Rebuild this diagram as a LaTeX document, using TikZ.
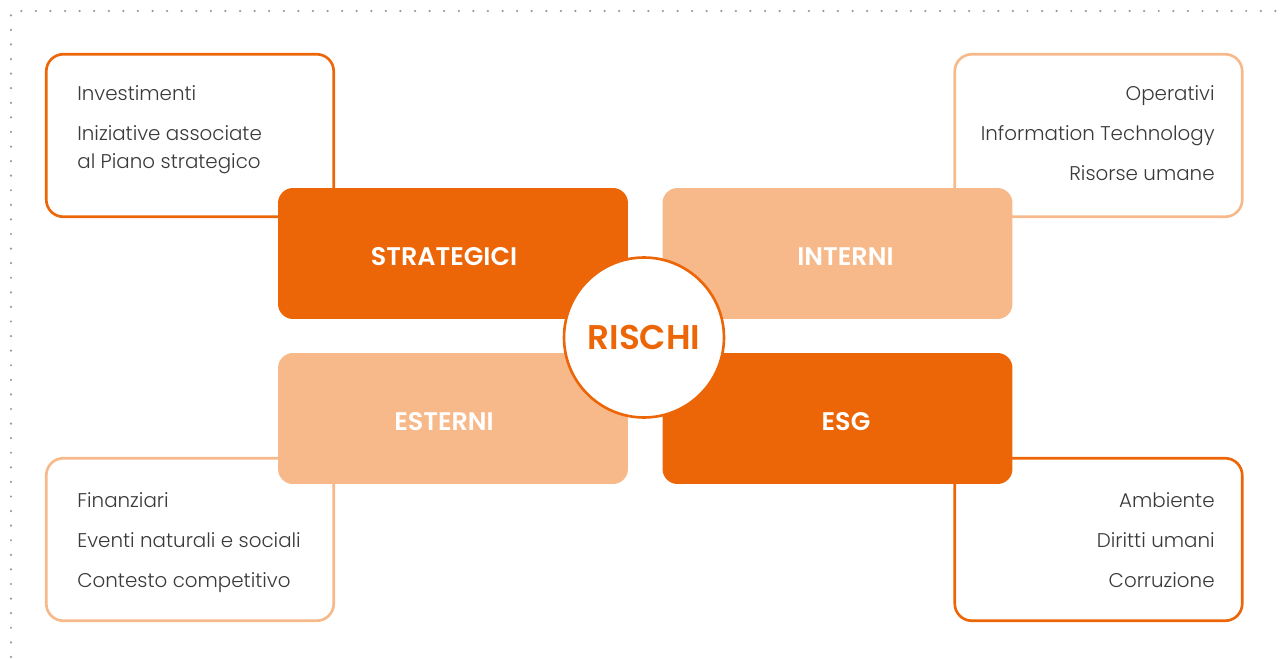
\documentclass[tikz,border=0pt]{standalone}
\usepackage{fontspec}
\setmainfont{Poppins}
\newfontfamily\lightfont{Poppins Light}
\newfontfamily\semifont{Poppins SemiBold}
\definecolor{darkor}{HTML}{EC6608}
\definecolor{lightor}{HTML}{F8B98A}
\definecolor{txtgray}{HTML}{3A3A3A}
\begin{document}
\begin{tikzpicture}[
		x=0.02cm, y=-0.02cm,
		listbox/.style={rectangle, rounded corners=0.34cm, draw=#1, fill=white,
			line width=1.5pt, minimum width=5.75cm, minimum height=3.25cm},
		riskbox/.style={rectangle, rounded corners=0.3cm, fill=#1,
			minimum width=7cm, minimum height=2.62cm},
		risklabel/.style={text=white, font=\fontsize{14.5}{16}\semifont},
		item/.style={inner sep=0pt, text=txtgray, font=\fontsize{11.3}{14}\lightfont}
	]
		\useasboundingbox (0,0) rectangle (1286,659);
		\draw[gray!80, line width=1.4pt, line cap=round, dash pattern=on 0pt off 8.3pt]
			(1290,11) -- (11,11) -- (11,665);

		% outer lists
		\node[listbox=darkor] (LStrat) at (190,135.5) {};
		\node[listbox=lightor] (LInt) at (1098.5,135.5) {};
		\node[listbox=lightor] (LEst) at (190,539.5) {};
		\node[listbox=darkor] (LEsg) at (1098.5,539.5) {};

		\node[item, anchor=base west] (I1) at (77,100) {Investimenti};
		\node[item, anchor=base west] (I2) at (77,140) {Iniziative associate};
		\node[item, anchor=base west] (I3) at (77,168) {al Piano strategico};

		\node[item, anchor=base east] (N1) at (1215,100) {Operativi};
		\node[item, anchor=base east] (N2) at (1215,140) {Information Technology};
		\node[item, anchor=base east] (N3) at (1215,180) {Risorse umane};

		\node[item, anchor=base west] (E1) at (77,507) {Finanziari};
		\node[item, anchor=base west] (E2) at (77,547) {Eventi naturali e sociali};
		\node[item, anchor=base west] (E3) at (77,587) {Contesto competitivo};

		\node[item, anchor=base east] (G1) at (1215,507) {Ambiente};
		\node[item, anchor=base east] (G2) at (1215,547) {Diritti umani};
		\node[item, anchor=base east] (G3) at (1215,587) {Corruzione};

		% categories
		\node[riskbox=darkor] (Strat) at (453,253.5) {};
		\node[riskbox=lightor] (Int) at (837.5,253.5) {};
		\node[riskbox=lightor] (Est) at (453,418.5) {};
		\node[riskbox=darkor] (Esg) at (837.5,418.5) {};
		\node[risklabel] (StratT) at (444,257) {STRATEGICI};
		\node[risklabel] (IntT) at (845.5,257) {INTERNI};
		\node[risklabel] (EstT) at (444,422) {ESTERNI};
		\node[risklabel] (EsgT) at (846,422) {ESG};

		\node[circle, draw=darkor, fill=white, line width=1.5pt, inner sep=0pt,
			minimum size=3.2cm, text=darkor, font=\fontsize{19.5}{24}\semifont
		] (Rischi) at (644,337.5) {RISCHI};
	\end{tikzpicture}
\end{document}
